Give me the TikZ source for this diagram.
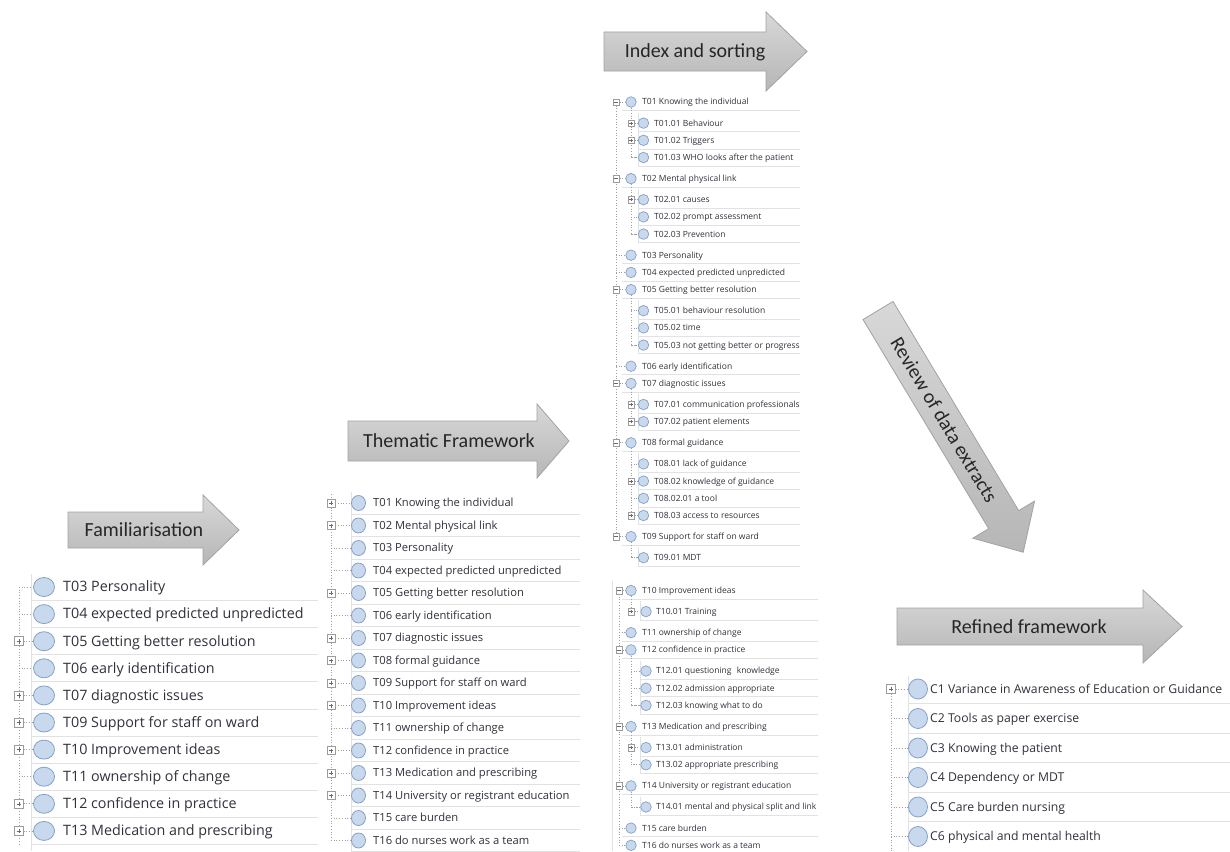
\documentclass[tikz,border=0pt]{standalone}
\usepackage{fontspec}
\setmainfont{Open Sans}
\newfontfamily\stepfont{Carlito}
\usetikzlibrary{shapes.geometric}
\pgfdeclarelayer{back}
\pgfdeclarelayer{canvas}
\pgfsetlayers{canvas,back,main}

\definecolor{arrowtop}{HTML}{D8D8D8}
\definecolor{arrowbot}{HTML}{B6B6B6}
\definecolor{arrowedge}{HTML}{A2A2A2}
\definecolor{labelink}{HTML}{262626}
\definecolor{rowink}{HTML}{352F3B}
\definecolor{bulfill}{HTML}{C8D9EE}
\definecolor{buledge}{HTML}{83A1C8}
\definecolor{sepline}{HTML}{E2E2E2}
\definecolor{treeline}{HTML}{A0A0A0}
\definecolor{boxedge}{HTML}{9C9C9C}
\definecolor{glyphink}{HTML}{6A6A6A}

% one row of a node tree: name, tree-line x, bullet x, label x, y, marker (p/m/n), label
\newcommand\navrow[7]{%
  \node[bul] (#1) at (#3,#5) {};
  \node[rowtext] (#1t) at (#4,#5) {#7};
  \csname navmark#6\endcsname{#1}{#2}{#5}%
}
% collapsed entry: boxed plus
\newcommand\navmarkp[3]{%
  \node[xbox] (#1b) at (#2,#3) {};
  \draw[boxglyph] ([xshift=-\boxarm]#1b.center) -- ([xshift=\boxarm]#1b.center)
                  ([yshift=-\boxarm]#1b.center) -- ([yshift=\boxarm]#1b.center);
  \begin{pgfonlayer}{back}\draw[tree] (#1b.east) -- (#1.west);\end{pgfonlayer}%
}
% expanded entry: boxed minus
\newcommand\navmarkm[3]{%
  \node[xbox] (#1b) at (#2,#3) {};
  \draw[boxglyph] ([xshift=-\boxarm]#1b.center) -- ([xshift=\boxarm]#1b.center);
  \begin{pgfonlayer}{back}\draw[tree] (#1b.east) -- (#1.west);\end{pgfonlayer}%
}
% leaf entry: plain stub
\newcommand\navmarkn[3]{%
  \coordinate (#1b) at (#2,#3);
  \begin{pgfonlayer}{back}\draw[tree] (#1b) -- (#1.west);\end{pgfonlayer}%
}

\begin{document}
\begin{tikzpicture}[x=1pt,y=-1pt,
  stepshape/.style={draw=arrowedge, line width=0.8pt, top color=arrowtop, bottom color=arrowbot},
  steplabel/.style={font=\stepfont\fontsize{20}{24}\selectfont, text=labelink, inner sep=0,
                    text height=12.8pt, text depth=0pt},
  bulbase/.style={shape=ellipse, draw=buledge, fill=bulfill, line width=0.8pt, inner sep=0},
  rowbase/.style={anchor=west, inner sep=0, text=rowink},
  xbox/.style={draw=boxedge, fill=white, line width=0.5pt, inner sep=0},
  boxglyph/.style={draw=glyphink, line width=0.6pt},
  tree/.style={draw=treeline, line width=0.7pt, dotted},
  sep/.style={draw=sepline, line width=0.8pt},
]
\useasboundingbox (0,0) rectangle (1230,851);
\begin{pgfonlayer}{canvas}\fill[white] (0,0) rectangle (1230,851);\end{pgfonlayer}

% ---------------- process arrows ----------------
\path[stepshape] (68,512) -- (203,512) -- (203,495) -- (239,530) -- (203,565) -- (203,548) -- (68,548) -- cycle;
\node[steplabel] (famlab) at (144,530) {Familiarisation};

\path[stepshape] (348,421) -- (537,421) -- (537,404) -- (569,441) -- (537,478) -- (537,461) -- (348,461) -- cycle;
\node[steplabel] (themlab) at (449,441) {Thematic Framework};

\path[stepshape] (604,32) -- (766,32) -- (766,12) -- (807,51.5) -- (766,91) -- (766,71) -- (604,71) -- cycle;
\node[steplabel] (indexlab) at (695,51.5) {Index and sorting};

\begin{scope}[shift={(878,310.5)}, rotate=-59]
  \path[stepshape] (0,-17.5) -- (244,-17.5) -- (244,-36) -- (282,0) -- (244,36) -- (244,17.5) -- (0,17.5) -- cycle;
  \node[steplabel, rotate=-59] (reviewlab) at (128,0) {Review of data extracts};
\end{scope}

\path[stepshape] (897,608) -- (1143,608) -- (1143,590) -- (1182,626.5) -- (1143,663) -- (1143,645) -- (897,645) -- cycle;
\node[steplabel] (reflab) at (1029,627) {Refined framework};

% ---------------- familiarisation tree ----------------
\begin{scope}[bul/.style={bulbase, minimum width=21, minimum height=19},
  rowtext/.style={rowbase, font=\fontsize{14.3}{16}\selectfont, text height=10pt, text depth=0.3pt}]
  \def\boxarm{2.3pt}
  \tikzset{xbox/.append style={minimum size=9}}
  \begin{pgfonlayer}{back}
    \draw[sep] (31,574) -- (31,851);
    \foreach \k in {0,...,9} \draw[sep] (31,600.55+27.1*\k) -- (318,600.55+27.1*\k);
  \end{pgfonlayer}
  \foreach \y/\mk/\lab [count=\i] in {
    587/n/T03 Personality,
    614.1/n/T04 expected predicted unpredicted,
    641.2/p/T05 Getting better resolution,
    668.3/n/T06 early identification,
    695.4/p/T07 diagnostic issues,
    722.5/p/T09 Support for staff on ward,
    749.6/p/T10 Improvement ideas,
    776.7/n/T11 ownership of change,
    803.8/p/T12 confidence in practice,
    830.9/p/T13 Medication and prescribing}
    {\navrow{fa\i}{19}{44}{63}{\y}{\mk}{\lab}}
  \begin{pgfonlayer}{back}\draw[tree] (fa1b) -- (19,845);\end{pgfonlayer}
\end{scope}

% ---------------- thematic framework tree ----------------
\begin{scope}[bul/.style={bulbase, minimum width=14, minimum height=15},
  rowtext/.style={rowbase, font=\fontsize{11.2}{13}\selectfont, text height=8pt, text depth=0.2pt}]
  \def\boxarm{2pt}
  \tikzset{xbox/.append style={minimum size=8}}
  \begin{pgfonlayer}{back}
    \draw[sep] (351,492) -- (351,851);
    \foreach \k in {0,...,15} \draw[sep] (351,514.25+22.5*\k) -- (580,514.25+22.5*\k);
  \end{pgfonlayer}
  \foreach \y/\mk/\lab [count=\i] in {
    503/p/T01 Knowing the individual,
    525.5/p/T02 Mental physical link,
    548/n/T03 Personality,
    570.5/n/T04 expected predicted unpredicted,
    593/p/T05 Getting better resolution,
    615.5/n/T06 early identification,
    638/p/T07 diagnostic issues,
    660.5/p/T08 formal guidance,
    683/p/T09 Support for staff on ward,
    705.5/p/T10 Improvement ideas,
    728/n/T11 ownership of change,
    750.5/p/T12 confidence in practice,
    773/p/T13 Medication and prescribing,
    795.5/p/T14 University or registrant education,
    818/n/T15 care burden,
    840.5/n/T16 do nurses work as a team}
    {\navrow{th\i}{331}{358.5}{373}{\y}{\mk}{\lab}}
  \begin{pgfonlayer}{back}\draw[tree] (331,494) -- (th16b);\end{pgfonlayer}
\end{scope}

% ---------------- index and sorting tree ----------------
\begin{scope}[bul/.style={bulbase, minimum width=10.5, minimum height=10.5, line width=0.7pt},
  rowtext/.style={rowbase, font=\fontsize{8.5}{10}\selectfont, text height=6pt, text depth=0.2pt}]
  \def\boxarm{1.6pt}
  \tikzset{xbox/.append style={minimum size=6.5}}
  \clip (598,90) -- (801,90) -- (801,572) -- (820,572) -- (820,851) -- (598,851) -- cycle;
  \foreach \y/\lv/\mk/\lab [count=\i] in {
    102/0/m/T01 Knowing the individual,
    123.1/1/p/T01.01 Behaviour,
    140.3/1/p/T01.02 Triggers,
    157.5/1/n/T01.03 WHO looks after the patient,
    178.6/0/m/T02 Mental physical link,
    199.7/1/p/T02.01 causes,
    216.9/1/n/T02.02 prompt assessment,
    234.1/1/n/T02.03 Prevention,
    255.2/0/n/T03 Personality,
    272.4/0/n/T04 expected predicted unpredicted,
    289.6/0/m/T05 Getting better resolution,
    310.7/1/n/T05.01 behaviour resolution,
    327.9/1/n/T05.02 time,
    345.1/1/n/T05.03 not getting better or progress,
    366.2/0/n/T06 early identification,
    383.4/0/m/T07 diagnostic issues,
    404.5/1/p/T07.01 communication professionals,
    421.7/1/p/T07.02 patient elements,
    442.8/0/m/T08 formal guidance,
    463.9/1/n/T08.01 lack of guidance,
    481.1/1/p/T08.02 knowledge of guidance,
    498.3/1/n/T08.02.01 a tool,
    515.5/1/p/T08.03 access to resources,
    536.6/0/m/T09 Support for staff on ward,
    557.7/1/n/T09.01 MDT,
    590.5/0/m/T10 Improvement ideas,
    611.6/1/p/T10.01 Training,
    632.7/0/n/T11 ownership of change,
    649.9/0/m/T12 confidence in practice,
    671/1/n/T12.01 questioning\hspace{3pt} knowledge,
    688.2/1/n/T12.02 admission appropriate,
    705.4/1/n/T12.03 knowing what to do,
    726.5/0/m/T13 Medication and prescribing,
    747.6/1/p/T13.01 administration,
    764.8/1/n/T13.02 appropriate prescribing,
    785.9/0/m/T14 University or registrant education,
    807/1/n/T14.01 mental and physical split and link,
    828.1/0/n/T15 care burden,
    845.3/0/n/T16 do nurses work as a team}
  {
    \pgfmathsetmacro\trx{\lv==0 ? (\i>25 ? 619 : 616) : 631}
    \pgfmathsetmacro\bx{\lv==0 ? 631 : (\i>25 ? 646 : 643.5)}
    \pgfmathsetmacro\tx{\lv==0 ? 642 : (\i>25 ? 656 : 654)}
    \pgfmathsetmacro\sx{\lv==0 ? 622 : (\i>25 ? 640 : 638)}
    \pgfmathsetmacro\ex{\i>25 ? 818 : 800}
    \begin{pgfonlayer}{back}\draw[sep] (\sx,\y+8.6) -- (\ex,\y+8.6);\end{pgfonlayer}
    \navrow{ia\i}{\trx}{\bx}{\tx}{\y}{\mk}{\lab}
  }
  \begin{pgfonlayer}{back}
    % child groups: branch lines and left edges
    \foreach \a/\b in {1/4,5/8,11/14,16/18,19/23,24/25,26/27,29/32,33/35,36/37}
      \draw[tree] (ia\a.south) |- (ia\b.west);
    \foreach \a/\b in {2/4,6/8,12/14,17/18,20/23,25/25,27/27,30/32,34/35,37/37}
      \draw[sep] ([shift={(-5.5,-10.5)}]ia\a.center) -- ([shift={(-5.5,8.6)}]ia\b.center);
    % top-level branch lines of both panels
    \draw[tree] (ia1b) -- (ia24b);
    \draw[tree] (ia26b) -- (ia39b);
    \draw[sep] (612,581) -- (612,851);
  \end{pgfonlayer}
\end{scope}

% ---------------- refined framework tree ----------------
\begin{scope}[bul/.style={bulbase, minimum width=19, minimum height=20},
  rowtext/.style={rowbase, font=\fontsize{12.2}{14}\selectfont, text height=8.6pt, text depth=0.2pt}]
  \def\boxarm{2.3pt}
  \tikzset{xbox/.append style={minimum size=9}}
  \begin{pgfonlayer}{back}
    \draw[sep] (908,676) -- (908,851);
    \foreach \k in {0,...,4} \draw[sep] (908,703.75+29.5*\k) -- (1230,703.75+29.5*\k);
  \end{pgfonlayer}
  \foreach \y/\mk/\lab [count=\i] in {
    689/p/C1 Variance in Awareness of Education or Guidance,
    718.5/n/C2 Tools as paper exercise,
    748/n/C3 Knowing the patient,
    777.5/n/C4 Dependency or MDT,
    807/n/C5 Care burden nursing,
    836.5/n/C6 physical and mental health}
    {\navrow{rf\i}{891}{918}{930}{\y}{\mk}{\lab}}
  \begin{pgfonlayer}{back}\draw[tree] (rf1b) -- (891,851);\end{pgfonlayer}
\end{scope}
\end{tikzpicture}
\end{document}
